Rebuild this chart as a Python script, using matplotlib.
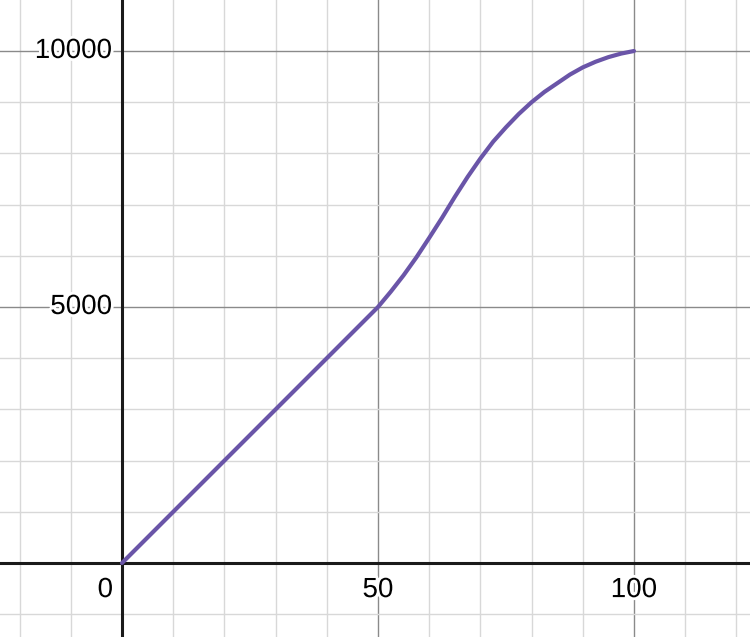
import numpy as np
import matplotlib.pyplot as plt
import matplotlib.patheffects as pe

plt.rcParams["font.family"] = ["Liberation Sans", "DejaVu Sans"]

# 数据
x_vals = [0, 50, 52.5, 55, 57.5, 60, 62.5, 65, 67.5, 70, 72.5, 75,
          77.5, 80, 82.5, 85, 87.5, 90, 92.5, 95, 97.5, 100]
y_vals = [0, 5000, 5300, 5620, 5970, 6350, 6740, 7150, 7540, 7900, 8230, 8510,
          8770, 9000, 9200, 9370, 9540, 9680, 9790, 9880, 9950, 10000]

x_ticks = [0, 50, 100]
y_ticks = [5000, 10000]
x_lim = (-23.83, 122.66)
y_lim = (-1445, 10996)

fig = plt.figure(figsize=(7.5, 6.37), dpi=100)
ax = fig.add_axes([0, 0, 1, 1])
ax.set_xlim(*x_lim)
ax.set_ylim(*y_lim)
ax.axis("off")

# 网格线
for gx in np.arange(-20, 130, 10):
    if gx == 0:
        continue
    major = gx % 50 == 0
    ax.axvline(gx, color="#8a8a8a" if major else "#d8d8d8", lw=1.0, zorder=1)
for gy in np.arange(-1000, 11000, 1000):
    if gy == 0:
        continue
    major = gy % 5000 == 0
    ax.axhline(gy, color="#8a8a8a" if major else "#d8d8d8", lw=1.0, zorder=1)

# 坐标轴
ax.axhline(0, color="#1a1a1a", lw=2.2, zorder=2)
ax.axvline(0, color="#1a1a1a", lw=2.2, zorder=2)

# 曲线
ax.plot(x_vals, y_vals, color="#6a55a8", lw=3.0, solid_capstyle="round",
        solid_joinstyle="round", zorder=4)

halo = [pe.withStroke(linewidth=4, foreground="white")]
for t in x_ticks:
    dx = -12 if t == 0 else 0
    ax.annotate(str(t), xy=(t, 0), xytext=(dx, -19.5), textcoords="offset points",
                ha="center", va="center", fontsize=20, color="black",
                path_effects=halo, zorder=5)
for t in y_ticks:
    ax.annotate(str(t), xy=(0, t), xytext=(-7, 0), textcoords="offset points",
                ha="right", va="center", fontsize=20, color="black",
                path_effects=halo, zorder=5)

plt.savefig("out.png", dpi=100)
